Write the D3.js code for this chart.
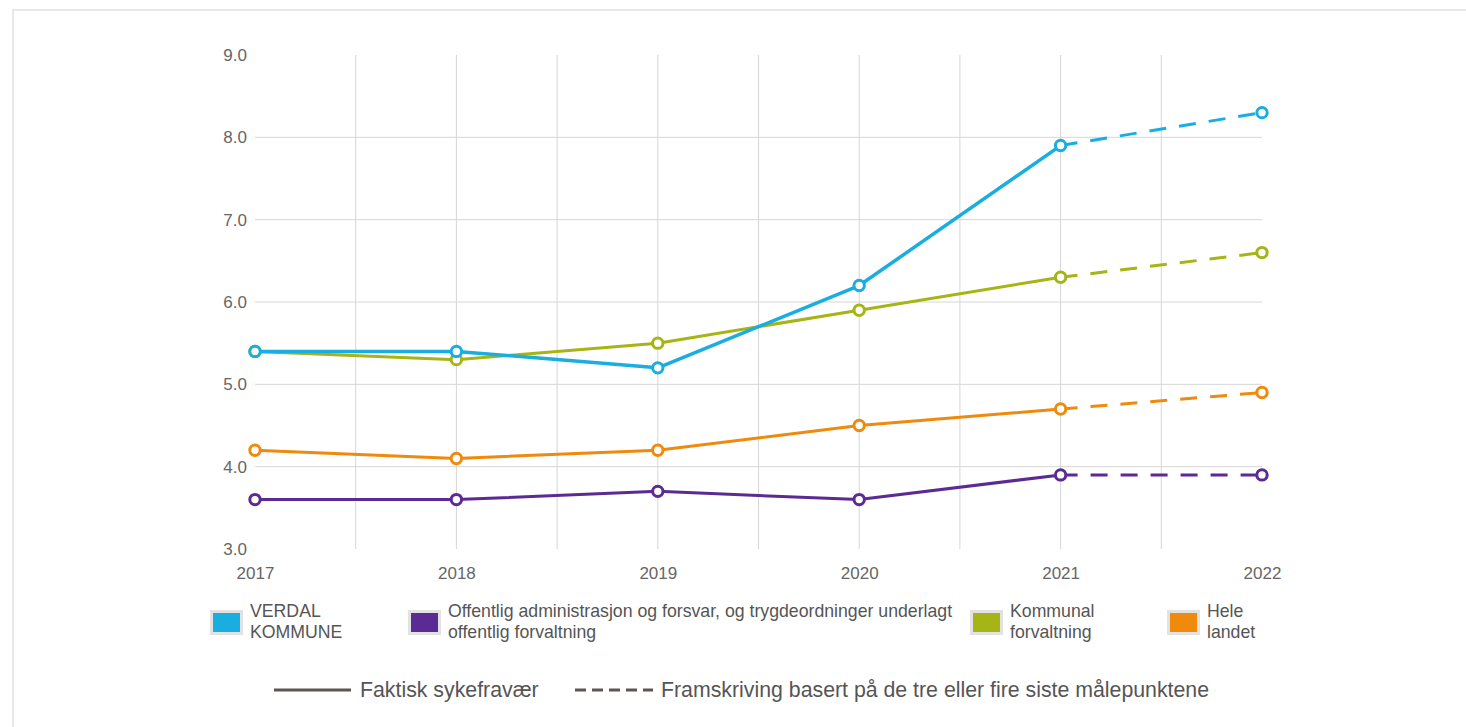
<!DOCTYPE html>
<html><head><meta charset="utf-8">
<script src="https://cdn.jsdelivr.net/npm/d3@7"></script>
<style>
html,body{margin:0;padding:0;background:#fff;}
svg text{font-family:"Liberation Sans",Arial,sans-serif;}
</style></head>
<body>
<svg id="chart" width="1466" height="727"></svg>
<script>
const years = [2017, 2018, 2019, 2020, 2021, 2022];
const actualYears = [2017, 2018, 2019, 2020, 2021];
const projYears = [2021, 2022];
const yTicks = [3, 4, 5, 6, 7, 8, 9];
const seriesNames = [
  ["VERDAL", "KOMMUNE"],
  ["Offentlig administrasjon og forsvar, og trygdeordninger underlagt", "offentlig forvaltning"],
  ["Kommunal", "forvaltning"],
  ["Hele", "landet"]
];
const seriesColors = ["#1aade0", "#5b2b93", "#a5b515", "#ef8a0c"];
const verdal = [5.4, 5.4, 5.2, 6.2, 7.9, 8.3];
const offentlig = [3.6, 3.6, 3.7, 3.6, 3.9, 3.9];
const kommunal = [5.4, 5.3, 5.5, 5.9, 6.3, 6.6];
const hele = [4.2, 4.1, 4.2, 4.5, 4.7, 4.9];
const seriesValues = [verdal, offentlig, kommunal, hele];
const styleLegend = ["Faktisk sykefravær", "Framskriving basert på de tre eller fire siste målepunktene"];

const svg = d3.select("#chart");
// outer border
svg.append("rect").attr("x", 13).attr("y", 10).attr("width", 1500).attr("height", 800)
  .attr("fill", "none").attr("stroke", "#e8e8e8").attr("stroke-width", 2);

const x = d3.scaleLinear().domain([2017, 2022]).range([255, 1262]);
const y = d3.scaleLinear().domain([3, 9]).range([549, 55]);

// gridlines
const grid = svg.append("g");
grid.selectAll(".h").data(yTicks.filter(t => t > 3 && t < 9)).join("line")
  .attr("x1", x(2017)).attr("x2", x(2022))
  .attr("y1", d => y(d)).attr("y2", d => y(d))
  .attr("stroke", "#d6d6d6").attr("stroke-width", 1);
const halfYears = d3.range(2017.5, 2022, 0.5);
grid.selectAll(".v").data(halfYears).join("line")
  .attr("x1", d => x(d)).attr("x2", d => x(d))
  .attr("y1", y(9)).attr("y2", y(3))
  .attr("stroke", "#d6d6d6").attr("stroke-width", 1);

// y axis labels
const yAxis = d3.axisLeft(y).tickValues(yTicks).tickFormat(d3.format(".1f")).tickSize(0).tickPadding(0);
const ya = svg.append("g").attr("transform", "translate(247,0)").call(yAxis);
ya.select(".domain").remove();
ya.selectAll("text").attr("fill", "#666").attr("font-size", 17);

// x axis labels
const xAxis = d3.axisBottom(x).tickValues(years).tickFormat(d3.format("d")).tickSize(0).tickPadding(0);
const xa = svg.append("g").attr("transform", "translate(0,567)").call(xAxis);
xa.select(".domain").remove();
xa.selectAll("text").attr("fill", "#666").attr("font-size", 17);

const line = d3.line().x(d => x(d[0])).y(d => y(d[1]));

// draw series in reverse order so first series is on top
for (let i = seriesValues.length - 1; i >= 0; i--) {
  const vals = seriesValues[i];
  const col = seriesColors[i];
  const g = svg.append("g");
  const act = actualYears.map(yr => [yr, vals[years.indexOf(yr)]]);
  const proj = projYears.map(yr => [yr, vals[years.indexOf(yr)]]);
  g.append("path").attr("d", line(act)).attr("fill", "none").attr("stroke", col)
    .attr("stroke-width", i === 0 ? 3.5 : 3).attr("stroke-linejoin", "round");
  g.append("path").attr("d", line(proj)).attr("fill", "none").attr("stroke", col)
    .attr("stroke-width", 3).attr("stroke-dasharray", "17,13");
  g.selectAll("circle").data(years.map((yr, k) => [yr, vals[k]])).join("circle")
    .attr("cx", d => x(d[0])).attr("cy", d => y(d[1])).attr("r", 5.2)
    .attr("fill", "#fff").attr("stroke", col).attr("stroke-width", 3);
}

// series legend
const legX = [210, 408, 970, 1167];
const leg = svg.append("g");
seriesNames.forEach((nm, i) => {
  const gx = legX[i];
  leg.append("rect").attr("x", gx).attr("y", 610).attr("width", 33).attr("height", 25)
    .attr("fill", "#e2e2e2");
  leg.append("rect").attr("x", gx + 3).attr("y", 613).attr("width", 27).attr("height", 19)
    .attr("fill", seriesColors[i]);
  const t = leg.append("text").attr("x", gx + 40).attr("y", 617).attr("fill", "#555").attr("font-size", 17.7);
  nm.forEach((ln, k) => t.append("tspan").attr("x", gx + 40).attr("dy", k === 0 ? 0 : 21).text(ln));
});

// style legend
const sl = svg.append("g");
sl.append("line").attr("x1", 274).attr("x2", 351).attr("y1", 690).attr("y2", 690)
  .attr("stroke", "#5c5753").attr("stroke-width", 3);
sl.append("text").attr("x", 360).attr("y", 697).attr("fill", "#555").attr("font-size", 21.3).text(styleLegend[0]);
sl.append("line").attr("x1", 575).attr("x2", 653).attr("y1", 690).attr("y2", 690)
  .attr("stroke", "#5c5753").attr("stroke-width", 3).attr("stroke-dasharray", "11,6");
sl.append("text").attr("x", 661).attr("y", 697).attr("fill", "#555").attr("font-size", 21.3).text(styleLegend[1]);
</script>
</body></html>
